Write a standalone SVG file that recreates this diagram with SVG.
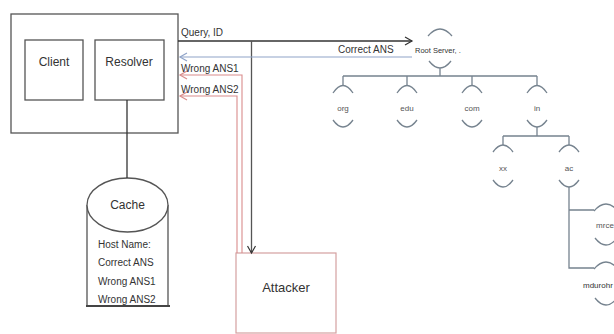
<svg xmlns="http://www.w3.org/2000/svg" width="614" height="334" viewBox="0 0 614 334">
<style>
.box{fill:#fff;stroke:#555;stroke-width:1.3}
.t{font-family:"Liberation Sans",Arial,sans-serif;fill:#333}
.lbl{font-size:10px}
.big{font-size:12px}
.small{font-size:8px;fill:#555;text-anchor:middle}
.tree{fill:none;stroke:#76838f;stroke-width:1.3}
.dark{fill:none;stroke:#333;stroke-width:1.3}
.blue{fill:none;stroke:#8fa3c8;stroke-width:1.2}
.red{fill:none;stroke:#d98c8c;stroke-width:1.1}
</style>
<defs>
<marker id="ad" markerWidth="10" markerHeight="10" refX="8" refY="5" orient="auto" markerUnits="userSpaceOnUse"><path d="M1,1 L8,5 L1,9" fill="none" stroke="#333" stroke-width="1.2"/></marker>
<marker id="ab" markerWidth="10" markerHeight="10" refX="8" refY="5" orient="auto" markerUnits="userSpaceOnUse"><path d="M1,1 L8,5 L1,9" fill="none" stroke="#8fa3c8" stroke-width="1.2"/></marker>
<marker id="ar" markerWidth="10" markerHeight="10" refX="8" refY="5" orient="auto" markerUnits="userSpaceOnUse"><path d="M1,1 L8,5 L1,9" fill="none" stroke="#d98c8c" stroke-width="1.2"/></marker>
</defs>

<g id="host">
<rect class="box" x="11" y="14" width="167" height="119"/>
</g>
<g id="client">
<rect class="box" x="25" y="40" width="58" height="60"/>
<text class="t big" x="54" y="66" text-anchor="middle">Client</text>
</g>
<g id="resolver">
<rect class="box" x="95" y="40" width="69" height="60"/>
<text class="t big" x="129" y="66" text-anchor="middle">Resolver</text>
</g>
<g id="cache">
<path class="box" d="M87,205 L87,306 M168,205 L168,306"/>
<ellipse class="box" cx="127.5" cy="205" rx="40.5" ry="27"/>
<line x1="86" y1="306" x2="170" y2="306" stroke="#444" stroke-width="2"/>
<text class="t big" x="127.5" y="209" text-anchor="middle">Cache</text>
<text class="t lbl" x="98" y="248">Host Name:</text>
<text class="t lbl" x="98" y="266">Correct ANS</text>
<text class="t lbl" x="98" y="285">Wrong ANS1</text>
<text class="t lbl" x="98" y="303">Wrong ANS2</text>
</g>
<g id="attacker">
<rect x="236" y="253" width="100" height="80" fill="#fff" stroke="#d4a0a0" stroke-width="1.2"/>
<text class="t" font-size="13" x="286" y="292" text-anchor="middle">Attacker</text>
</g>

<g id="connectors">
<line class="dark" x1="127" y1="100" x2="127" y2="178"/>
<line class="dark" x1="178" y1="41" x2="412" y2="41" marker-end="url(#ad)"/>
<line x1="251.5" y1="41" x2="251.5" y2="253" fill="none" stroke="#555" stroke-width="1.3" marker-end="url(#ad)"/>
<line class="blue" x1="412" y1="57" x2="180" y2="57" marker-end="url(#ab)"/>
<path class="red" d="M242,253 L242,75 L180,75" marker-end="url(#ar)"/>
<path class="red" d="M237,253 L237,96 L180,96" marker-end="url(#ar)"/>
<text class="t lbl" x="181" y="36">Query, ID</text>
<text class="t lbl" x="338" y="53">Correct ANS</text>
<text class="t lbl" x="181" y="72">Wrong ANS1</text>
<text class="t lbl" x="181" y="93">Wrong ANS2</text>
</g>

<g id="dns-tree">
<g id="root">
<path class="tree" d="M428,36 Q440,22 452,36 M429,61 Q440,75 451,61 M440,68 L440,76"/>
<text class="t" font-size="7.5" x="415" y="53">Root Server, .</text>
</g>
<path class="tree" d="M343,76 L537,76 M343,76 L343,85 M407,76 L407,85 M472,76 L472,85 M537,76 L537,85"/>
<g id="org"><path class="tree" d="M333,93 Q343,78 353,93 M333,120 Q343,134 353,120"/><text class="t small" x="343" y="111">org</text></g>
<g id="edu"><path class="tree" d="M397,93 Q407,78 417,93 M397,120 Q407,134 417,120"/><text class="t small" x="407" y="111">edu</text></g>
<g id="com"><path class="tree" d="M462,93 Q472,78 482,93 M462,120 Q472,134 482,120"/><text class="t small" x="472" y="111">com</text></g>
<g id="in"><path class="tree" d="M527,93 Q537,78 547,93 M527,120 Q537,134 547,120"/><text class="t small" x="537" y="111">in</text></g>
<path class="tree" d="M537,127 L537,136 M503,136 L569,136 M503,136 L503,145 M569,136 L569,145"/>
<g id="xx"><path class="tree" d="M493,152 Q503,138 513,152 M493,180 Q503,194 513,180"/><text class="t small" x="503" y="171">xx</text></g>
<g id="ac"><path class="tree" d="M559,152 Q569,138 579,152 M559,180 Q569,194 579,180"/><text class="t small" x="569" y="171">ac</text></g>
<path class="tree" d="M569,187 L569,268 L594,268 M569,210 L594,210"/>
<g id="mrce"><path class="tree" d="M594,211 Q606,197 618,211 M595,238 Q606,252 617,238"/><text class="t small" x="605" y="228">mrce</text></g>
<g id="mdurohr"><path class="tree" d="M594,269 Q606,255 618,269 M595,298 Q606,312 617,298"/><text class="t" font-size="8" fill="#555" x="583" y="288">mdurohr</text></g>
</g>
</svg>
